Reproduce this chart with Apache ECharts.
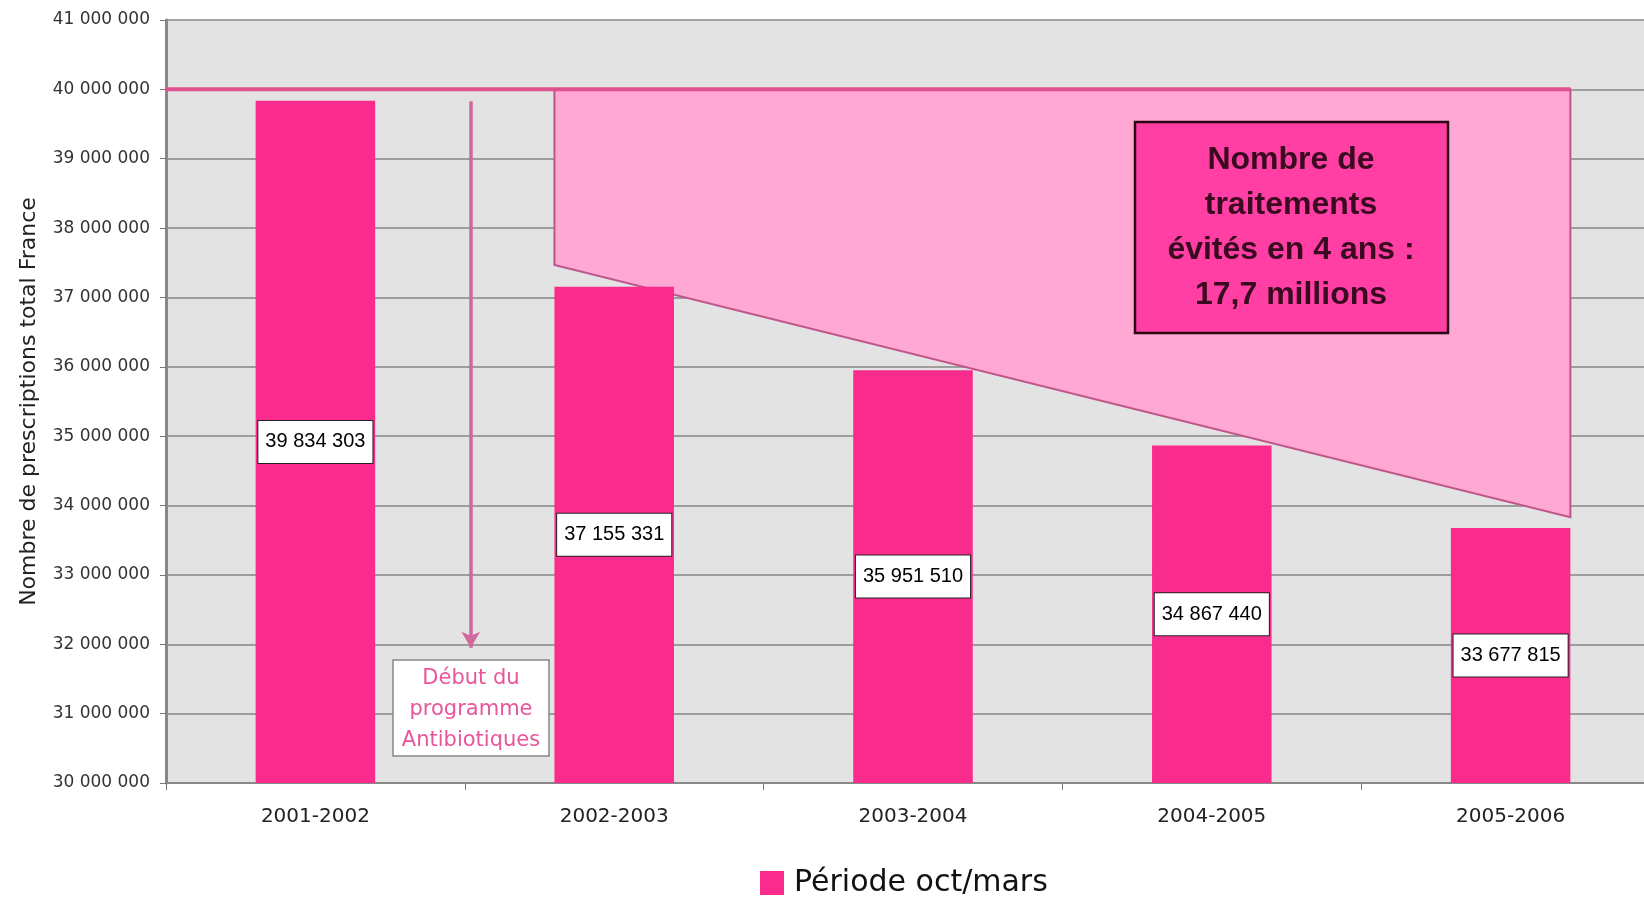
<!DOCTYPE html>
<html>
<head>
<meta charset="utf-8">
<script src="https://cdn.jsdelivr.net/npm/echarts@6/dist/echarts.min.js"></script>
<style>
html,body{margin:0;padding:0;background:#fff;}
#chart{width:1644px;height:898px;}
</style>
</head>
<body>
<div id="chart"></div>
<script>
// ---- data ----
const categories = ['2001-2002', '2002-2003', '2003-2004', '2004-2005', '2005-2006'];
const prescriptions = [39834303, 37155331, 35951510, 34867440, 33677815];
const seriesName = 'Période oct/mars';
const yMin = 30000000, yMax = 41000000, yStep = 1000000;
// reference level and trend line bounding the "avoided treatments" area
const referenceLevel = 40000000;
const trendX = [0.8, 4.2];
const trendY = [37470000, 33830000];
// programme start arrow (x in category units)
const programX = [0.52, 0.52];
const programY = [39830000, 31950000];
const annotationLines = ['Nombre de', 'traitements', 'évités en 4 ans :', '17,7 millions'];
const programLines = ['Début du', 'programme', 'Antibiotiques'];
const yAxisName = 'Nombre de prescriptions total France';

function fmt(v) {
  return String(v).replace(/\B(?=(\d{3})+(?!\d))/g, ' ');
}

const chart = echarts.init(document.getElementById('chart'));
const option = {
  backgroundColor: '#ffffff',
  animation: false,
  grid: {
    left: 166, top: 20, width: 1494, height: 763,
    outerBoundsMode: 'none', containLabel: false,
    show: true, backgroundColor: '#e3e3e3', borderWidth: 0
  },
  legend: {
    data: [seriesName],
    left: 755, top: 863,
    icon: 'rect', itemWidth: 24, itemHeight: 24, itemGap: 10,
    textStyle: { fontSize: 30, color: '#111', fontFamily: 'DejaVu Sans', padding: [0, 0, 0, 5] }
  },
  xAxis: [
    {
      type: 'category', data: categories, boundaryGap: true,
      axisLine: { lineStyle: { color: '#888', width: 2 } },
      axisTick: { show: true, interval: 0, length: 7, lineStyle: { color: '#777' } },
      axisLabel: { fontSize: 20, color: '#222', margin: 24, fontFamily: 'DejaVu Sans' },
      splitLine: { show: false }
    },
    { type: 'value', min: -0.5, max: 4.5, show: false }
  ],
  yAxis: {
    type: 'value', min: yMin, max: yMax, interval: yStep,
    name: yAxisName, nameLocation: 'middle', nameGap: 126, nameRotate: 90,
    nameTextStyle: { fontSize: 22, color: '#222', fontFamily: 'DejaVu Sans' },
    axisLine: { show: true, onZero: false, lineStyle: { color: '#888', width: 3 } },
    axisTick: { show: true, length: 6, lineStyle: { color: '#777' } },
    axisLabel: { formatter: fmt, fontSize: 17, color: '#333', margin: 16, fontFamily: 'DejaVu Sans' },
    splitLine: { show: true, lineStyle: { color: '#868686', width: 1.5 } }
  },
  series: [
    {
      type: 'custom', xAxisIndex: 1, yAxisIndex: 0, z: 1, silent: true,
      data: [0],
      renderItem: function (params, api) {
        const pts = [
          api.coord([trendX[0], referenceLevel]),
          api.coord([trendX[1], referenceLevel]),
          api.coord([trendX[1], trendY[1]]),
          api.coord([trendX[0], trendY[0]])
        ];
        return {
          type: 'polygon',
          shape: { points: pts },
          style: { fill: '#ffa8d3', stroke: '#c0558c', lineWidth: 2 }
        };
      }
    },
    {
      name: seriesName, type: 'bar', data: prescriptions, barWidth: '40%', z: 2,
      itemStyle: { color: '#f92b8d' },
      label: {
        show: true, position: 'inside', formatter: p => fmt(p.value),
        backgroundColor: '#ffffff', borderColor: '#222', borderWidth: 1,
        padding: [11, 7], fontSize: 20, color: '#000', fontFamily: 'Liberation Sans'
      }
    },
    {
      type: 'line', xAxisIndex: 1, yAxisIndex: 0, z: 4, silent: true,
      data: [[-0.5, referenceLevel], [trendX[1], referenceLevel]],
      symbol: 'none', lineStyle: { color: '#e0508e', width: 4 },
      markLine: {
        silent: true, symbol: ['none', 'arrow'], symbolSize: [14, 16],
        label: { show: false },
        lineStyle: { color: '#d2679d', width: 3.5, type: 'solid' },
        data: [[{ coord: [programX[0], programY[0]] }, { coord: [programX[1], programY[1]] }]]
      }
    }
  ],
  graphic: [
    { type: 'rect', z: 100, shape: { x: 393, y: 660, width: 156, height: 96 },
      style: { fill: '#ffffff', stroke: '#888', lineWidth: 1.5 } },
    { type: 'text', z: 101, x: 471, y: 663,
      style: { text: programLines.join('\n'), fill: '#e8559a', fontSize: 21,
               fontFamily: 'DejaVu Sans', lineHeight: 31, align: 'center', verticalAlign: 'top' } },
    { type: 'rect', z: 100, shape: { x: 1135, y: 122, width: 313, height: 211 },
      style: { fill: '#ff3fa3', stroke: '#2a0512', lineWidth: 2.5 } },
    { type: 'text', z: 101, x: 1291, y: 138,
      style: { text: annotationLines.join('\n'), fill: '#3a0a20', fontSize: 32,
               fontWeight: 'bold', fontFamily: 'Liberation Sans Narrow, Liberation Sans',
               lineHeight: 45, align: 'center', verticalAlign: 'top' } }
  ]
};
chart.setOption(option);
</script>
</body>
</html>
